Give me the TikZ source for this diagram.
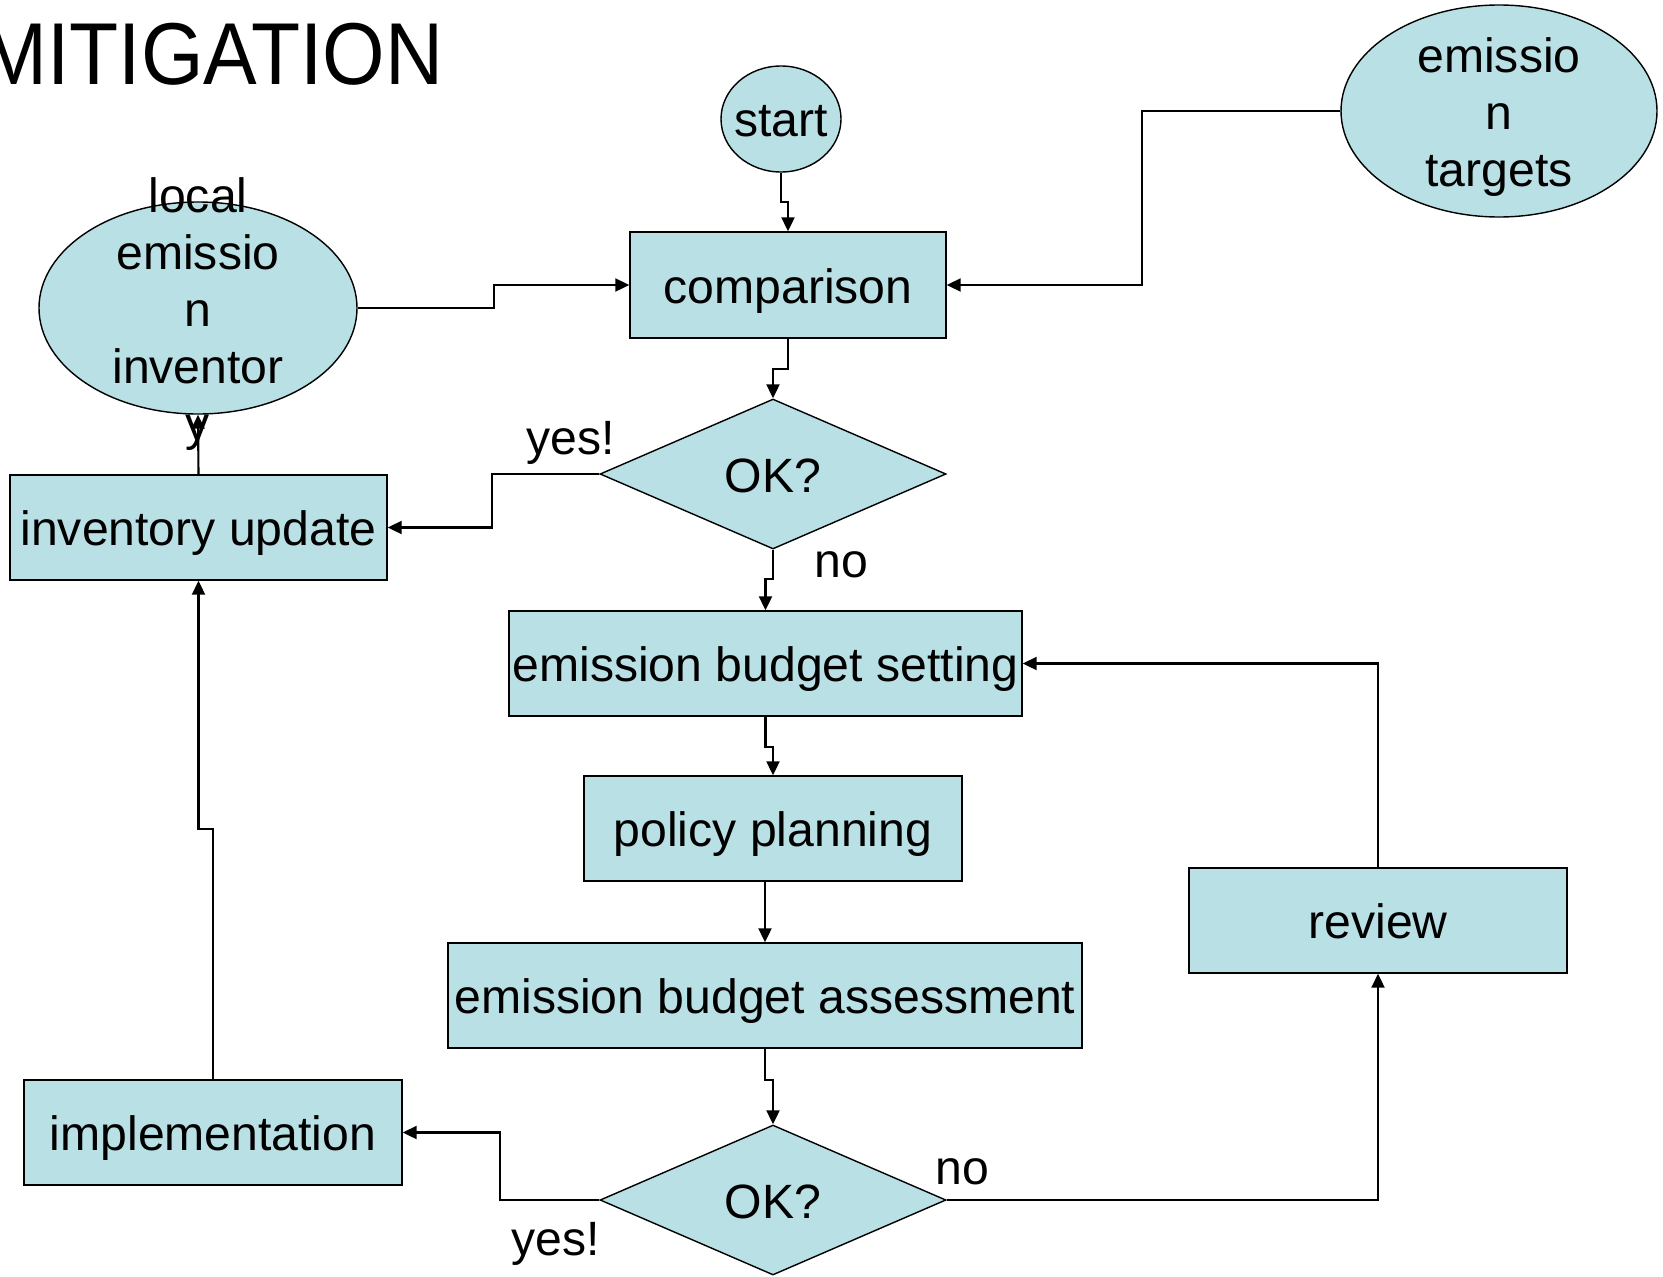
\documentclass[tikz,border=0pt]{standalone}
\usepackage{fontspec}
\setmainfont{Liberation Sans}
\usepackage{xcolor}
\usepackage{tikz}
\usetikzlibrary{arrows.meta}
\usetikzlibrary{shapes.geometric}
\definecolor{boxfill}{RGB}{185,224,228}

\begin{document}
\begin{tikzpicture}[scale=1,
    font=\fontsize{13.7}{16.2}\selectfont,
    stepbox/.style={draw, line width=0.4pt, fill=boxfill, inner sep=0pt, minimum height=1.05cm,
                    text height=10.3pt, text depth=0pt},
    oval/.style={ellipse, draw, line width=0.4pt, fill=boxfill, inner sep=0pt},
    choice/.style={diamond, draw, line width=0.4pt, fill=boxfill, inner sep=0pt, minimum width=3.46cm, minimum height=1.50cm,
                   text height=10.3pt, text depth=0pt},
    branch/.style={yshift=-0.05cm},
    flow/.style={line width=0.6pt, -{Triangle[length=1.4mm,width=1.3mm]}}]
  \useasboundingbox (0,0) rectangle (16.63,-12.76);

  % Title
  \node[anchor=base east, inner sep=0pt, font=\fontsize{25}{30}\selectfont] (title) at (4.44,-0.84) {\scalebox{0.915}[1]{MITIGATION}};

  % Ovals
  \node[oval, minimum width=1.20cm, minimum height=1.06cm, label={[yshift=-0.02cm]center:start}] (start) at (7.81,-1.19) {};
  \node[oval, minimum width=3.16cm, minimum height=2.12cm,
        label={[align=center, yshift=-0.06cm]center:emissio\\n\\targets}] (targets) at (14.99,-1.11) {};
  \node[oval, minimum width=3.18cm, minimum height=2.12cm,
        label={[align=center, yshift=-0.06cm]center:local\\emissio\\n\\inventor\\y}] (local) at (1.98,-3.08) {};

  % Boxes
  \node[stepbox, minimum width=3.16cm, minimum height=1.06cm] (comp) at (7.88,-2.85) {comparison};
  \node[choice] (ok1) at (7.73,-4.74) {OK?};
  \node[stepbox, minimum width=3.77cm] (invupd) at (1.985,-5.275) {inventory update};
  \node[stepbox, minimum width=5.13cm] (ebs) at (7.655,-6.635) {emission budget setting};
  \node[stepbox, minimum width=3.78cm] (pp) at (7.73,-8.285) {policy planning};
  \node[stepbox, minimum width=6.34cm] (eba) at (7.65,-9.955) {emission budget assessment};
  \node[stepbox, minimum width=3.78cm] (review) at (13.78,-9.205) {review};
  \node[stepbox, minimum width=3.78cm] (impl) at (2.13,-11.325) {implementation};
  \node[choice] (ok2) at (7.73,-12.00) {OK?};

  % Labels on the branches
  \node[branch] (yes1) at (5.71,-4.38) {yes!};
  \node[branch] (no1) at (8.41,-5.60) {no};
  \node[branch] (no2) at (9.62,-11.67) {no};
  \node[branch] (yes2) at (5.56,-12.39) {yes!};

  % Connectors
  \draw[flow] (start.south) -- ++(0,-0.29) -| (comp.north);
  \draw[flow] (local.east) -- ++(1.36,0) |- (comp.west);
  \draw[flow] (targets.west) -- ++(-1.98,0) |- (comp.east);
  \draw[flow] (comp.south) -- ++(0,-0.30) -| (ok1.north);
  \draw[flow] (ok1.west) -- ++(-1.07,0) |- (invupd.east);
  \draw[flow] (invupd.north) -- (local.south);
  \draw[flow] (ok1.south) -- ++(0,-0.29) -| (ebs.north);
  \draw[flow] (ebs.south) -- ++(0,-0.30) -| (pp.north);
  \draw[flow] (pp.south -| eba.north) -- (eba.north);
  \draw[flow] (eba.south) -- ++(0,-0.31) -| (ok2.north);
  \draw[flow] (ok2.west) -- ++(-0.99,0) |- (impl.east);
  \draw[flow] (impl.north) -- ++(0,2.50) -| (invupd.south);
  \draw[flow] (ok2.east) -| (review.south);
  \draw[flow] (review.north) |- (ebs.east);
\end{tikzpicture}
\end{document}
